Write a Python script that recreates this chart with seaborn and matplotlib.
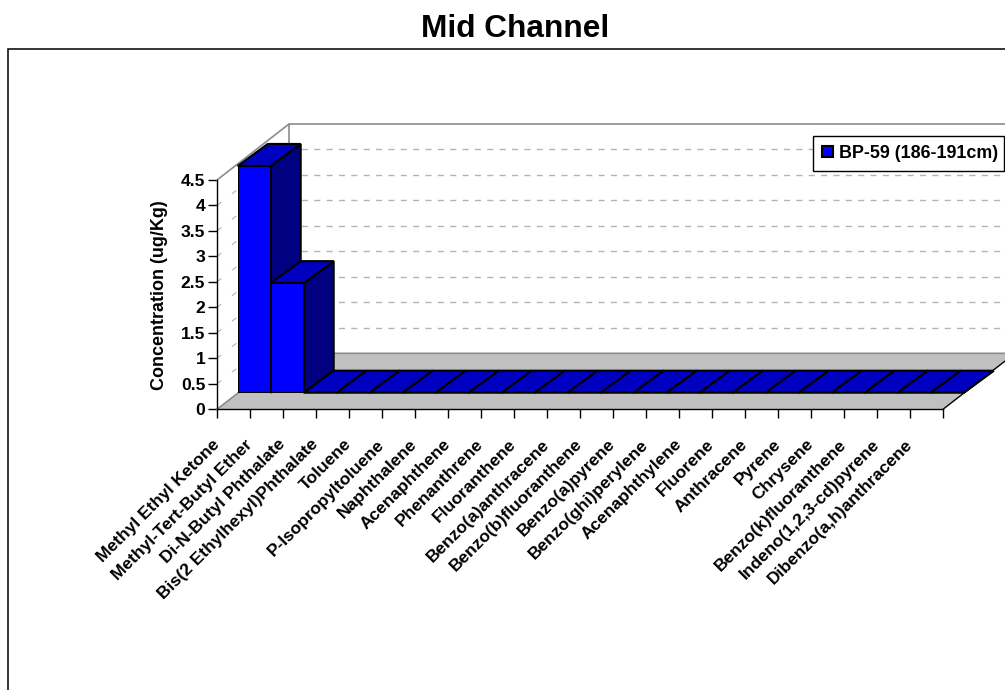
import matplotlib
matplotlib.use('Agg')
import matplotlib.pyplot as plt
from matplotlib.patches import Polygon, Rectangle
import seaborn as sns

compounds = ['Methyl Ethyl Ketone', 'Methyl-Tert-Butyl Ether', 'Di-N-Butyl Phthalate',
             'Bis(2 Ethylhexyl)Phthalate', 'Toluene', 'P-Isopropyltoluene', 'Naphthalene',
             'Acenaphthene', 'Phenanthrene', 'Fluoranthene', 'Benzo(a)anthracene',
             'Benzo(b)fluoranthene', 'Benzo(a)pyrene', 'Benzo(ghi)perylene', 'Acenaphthylene',
             'Fluorene', 'Anthracene', 'Pyrene', 'Chrysene', 'Benzo(k)fluoranthene',
             'Indeno(1,2,3-cd)pyrene', 'Dibenzo(a,h)anthracene']
conc = [4.45, 2.15, 0, 0, 0, 0, 0, 0, 0, 0, 0, 0, 0, 0, 0, 0, 0, 0, 0, 0, 0, 0]
series_name = 'BP-59 (186-191cm)'
y_ticks = [0, 0.5, 1, 1.5, 2, 2.5, 3, 3.5, 4, 4.5]
y_labels = ['0', '0.5', '1', '1.5', '2', '2.5', '3', '3.5', '4', '4.5']

sns.set_style('white')
plt.rcParams['font.family'] = ['Liberation Sans', 'DejaVu Sans']
plt.rcParams['font.weight'] = 'bold'
plt.rcParams['text.color'] = 'black'
plt.rcParams['axes.labelcolor'] = 'black'
plt.rcParams['xtick.color'] = 'black'
plt.rcParams['ytick.color'] = 'black'

W, H = 1005, 690
fig = plt.figure(figsize=(W / 100, H / 100), dpi=100)


def px_axes(left, top, right, bottom):
    return fig.add_axes([left / W, 1 - bottom / H, (right - left) / W, (bottom - top) / H])


# chart frame
fig.add_artist(Rectangle((8 / W, -0.01), 1.0, 1 - 49 / H + 0.01, transform=fig.transFigure,
                         fc='white', ec='black', lw=1.1, zorder=-1))
fig.text(515 / W, 1 - 29 / H, 'Mid Channel', fontsize=22.8, fontweight='bold', ha='center', va='center')

# front axis with walls and floor
ax = px_axes(217, 180, 943, 409.3)
ax.set_xlim(0, 22)
ax.set_ylim(0, 4.5)
ax.patch.set_alpha(0)
sns.despine(ax=ax)
for s in ['left', 'bottom']:
    ax.spines[s].set_color('black')
    ax.spines[s].set_linewidth(1.0)

wall_dx = 72 / 33
wall_dy = 56 / 50.96
wall_end = (1005 - 217) / 33
grey = '#8c8c8c'
ax.add_patch(Polygon([(0, 0), (22, 0), (22 + wall_dx, wall_dy), (wall_dx, wall_dy)], fc='#c0c0c0', ec='none',
                     clip_on=False, zorder=0.5))
ax.plot([0, wall_dx, wall_end], [4.5, 4.5 + wall_dy, 4.5 + wall_dy], color=grey, lw=1.2, clip_on=False, zorder=1)
ax.plot([wall_dx, wall_dx], [wall_dy, 4.5 + wall_dy], color=grey, lw=1.2, clip_on=False, zorder=1)
ax.plot([0, wall_dx, wall_end], [0, wall_dy, wall_dy], color=grey, lw=1.2, clip_on=False, zorder=1)
ax.plot([22, 22 + wall_dx], [0, wall_dy], color='black', lw=1.0, clip_on=False, zorder=1)
for v in y_ticks[1:-1]:
    ax.plot([wall_dx, wall_end - 0.15], [v + wall_dy, v + wall_dy], color='#b4b4b4', lw=1.0,
            dashes=(4.4, 4.5), clip_on=False, zorder=0.6)
    ax.plot([0, wall_dx], [v, v + wall_dy], color='#b4b4b4', lw=0.8, dashes=(5, 12), clip_on=False, zorder=0.6)

ax.set_yticks(y_ticks, y_labels)
ax.set_xticks(range(23), compounds + [''])
ax.tick_params(axis='y', direction='out', length=6.5, width=1, color='black', left=True, pad=2, labelsize=12.6)
ax.tick_params(axis='x', direction='out', length=6.5, width=1, color='black', bottom=True, pad=17, labelsize=12.5)
for lab in ax.get_xticklabels():
    lab.set_rotation(45)
    lab.set_ha('right')
    lab.set_va('center')
    lab.set_rotation_mode('anchor')
ax.set_ylabel('Concentration (ug/Kg)', fontsize=13, fontweight='bold', va='center')
ax.yaxis.set_label_coords((159 - 217) / 726, (409.3 - 295) / 229.3)

# bars sit in their own plane, inset from the front axis
ax_bar = px_axes(237.7, 392.7 - 229.3, 963.7, 392.7)
ax_bar.patch.set_alpha(0)
sns.barplot(x=compounds, y=conc, color='#0000FF', saturation=1, width=1, edgecolor='black', linewidth=1.5,
            ax=ax_bar, label=series_name, zorder=3)
ax_bar.set_xlim(-0.5, 21.5)
ax_bar.set_ylim(0, 4.5)
ax_bar.axis('off')

bar_dx = 30 / 33
bar_dy = 22 / 50.96
for i, p in enumerate(list(ax_bar.patches)):
    x0, w, h = p.get_x(), p.get_width(), p.get_height()
    ax_bar.add_patch(Polygon([(x0 + w, 0), (x0 + w + bar_dx, bar_dy), (x0 + w + bar_dx, h + bar_dy), (x0 + w, h)],
                             fc='#000080', ec='black', lw=1.5, clip_on=False, zorder=1 + i * 0.01))
    ax_bar.add_patch(Polygon([(x0, h), (x0 + bar_dx, h + bar_dy), (x0 + w + bar_dx, h + bar_dy), (x0 + w, h)],
                             fc='#0000C0', ec='black', lw=1.5, clip_on=False, zorder=1 + i * 0.01 + 0.005))

leg = ax_bar.legend(loc='lower left', bbox_to_anchor=(813 / W, 1 - 171 / H, 191 / W, 32 / H),
                    bbox_transform=fig.transFigure, mode='expand', frameon=True, fancybox=False,
                    edgecolor='black', framealpha=1, fontsize=12.9, handlelength=0.6, handleheight=0.6,
                    handletextpad=0.35, borderaxespad=0, borderpad=0.5)
leg.get_frame().set_linewidth(1.0)
leg.set_zorder(10)

fig.savefig('out.png', dpi=100)
